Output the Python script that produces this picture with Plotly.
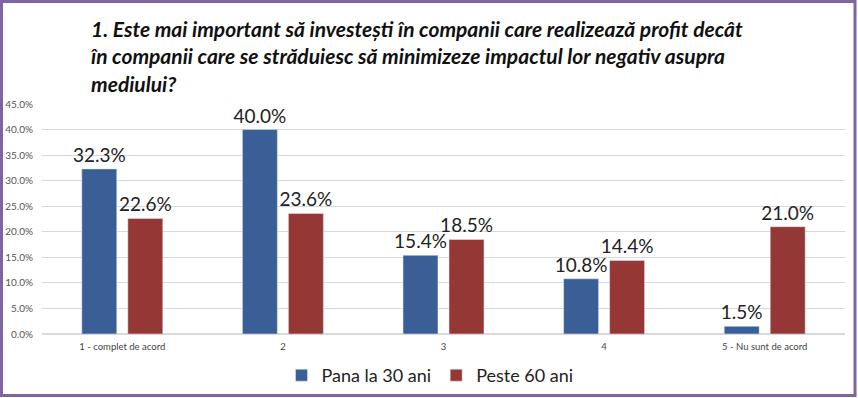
import plotly.graph_objects as go

categories = ["1 - complet de acord", "2", "3", "4", "5 - Nu sunt de acord"]
series_names = ["Pana la 30 ani", "Peste 60 ani"]
young = [32.3, 40.0, 15.4, 10.8, 1.5]
old = [22.6, 23.6, 18.5, 14.4, 21.0]
tick_vals = [0, 5, 10, 15, 20, 25, 30, 35, 40, 45]
tick_text = ["0.0%", "5.0%", "10.0%", "15.0%", "20.0%", "25.0%", "30.0%", "35.0%", "40.0%", "45.0%"]
title_text = ("1. Este mai important să investești în companii care realizează profit decât<br>"
              "în companii care se străduiesc să minimizeze impactul lor negativ asupra<br>"
              "mediului?")

W, H = 858, 398
L, R, T, B = 42, 13, 104, 64
pw = W - L - R
ph = H - T - B

def px_x(p):
    return (p - L) / pw

def px_y(p):
    return (H - B - p) / ph

fig = go.Figure()
colors = ["#3A5F96", "#953735"]
for name, vals, c in zip(series_names, [young, old], colors):
    fig.add_trace(go.Bar(
        x=categories, y=vals, name=name, marker_color=c,
        text=[f"{v:.1f}%" for v in vals], textposition="outside",
        constraintext="none",
        textfont=dict(size=19, color="#222222", family="Lato, Open Sans, sans-serif"),
        cliponaxis=False,
    ))

fig.update_layout(
    width=W, height=H,
    margin=dict(l=L, r=R, t=T, b=B, autoexpand=False),
    paper_bgcolor="white", plot_bgcolor="white",
    barmode="group", bargap=0.427, bargroupgap=0.24,
    font=dict(family="Lato, Open Sans, sans-serif"),
    showlegend=True,
    legend=dict(orientation="h", x=px_x(430), xanchor="center", y=px_y(394), yanchor="bottom",
                font=dict(size=18, color="#222222"), itemwidth=30, traceorder="normal"),
    yaxis=dict(range=[0, 45], tickvals=tick_vals, ticktext=tick_text, automargin=False,
               tickfont=dict(size=10, color="#555555"), gridcolor="#D9D9D9", gridwidth=1,
               zeroline=True, zerolinecolor="#D9D9D9", ticks="", ticklabelstandoff=8),
    xaxis=dict(tickfont=dict(size=9.5, color="#444444"), showline=False, ticks="",
               automargin=False, ticklabelstandoff=5),
    annotations=[dict(
        text="<b><i>" + title_text + "</i></b>", xref="paper", yref="paper",
        x=px_x(88), y=px_y(14), xanchor="left", yanchor="top", align="left",
        showarrow=False, font=dict(size=21, color="#111111", family="Lato, Open Sans, sans-serif"),
    )],
    shapes=[dict(type="rect", xref="paper", yref="paper",
                 x0=px_x(1.5), x1=px_x(855), y0=px_y(1.5), y1=px_y(395.5),
                 line=dict(color="#7E64A0", width=3), layer="above")],
)

fig.write_html("out.html", config={"displayModeBar": False},
               post_script="document.body.style.margin='0';document.body.style.padding='0';")
